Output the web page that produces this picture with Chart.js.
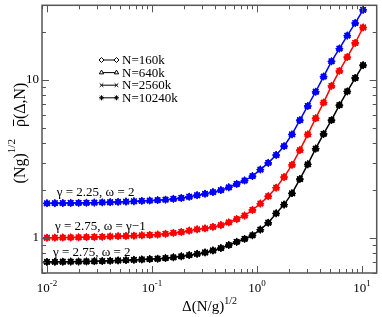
<!DOCTYPE html>
<html>
<head>
<meta charset="utf-8">
<script src="https://cdn.jsdelivr.net/npm/chart.js@4.4.0/dist/chart.umd.min.js"></script>
<style>
  body { margin: 0; background: #fff; }
  canvas { display: block; }
</style>
</head>
<body>
<canvas id="chart" width="382" height="317"></canvas>
<script>
// x values: Delta (N/g)^1/2
const deltaValues = [
  0.01, 0.01189, 0.01414, 0.01682, 0.02, 0.02378, 0.02828, 0.03364, 0.04, 0.04757,
  0.05657, 0.06727, 0.08, 0.09514, 0.1131, 0.1345, 0.16, 0.1903, 0.2263, 0.2691,
  0.32, 0.3805, 0.4525, 0.5382, 0.64, 0.7611, 0.9051, 1.076, 1.28, 1.522,
  1.81, 2.153, 2.56, 3.044, 3.62, 4.305, 5.12, 6.089, 7.241, 8.611, 10.24
];

// gamma = 2.25, omega = 2
const rhoBlue = [
  1.657, 1.659, 1.662, 1.664, 1.666, 1.669, 1.673, 1.678, 1.683, 1.69,
  1.698, 1.705, 1.715, 1.725, 1.735, 1.747, 1.767, 1.79, 1.823, 1.863,
  1.903, 1.95, 2.007, 2.089, 2.196, 2.309, 2.462, 2.71, 2.987, 3.349,
  3.809, 4.521, 5.564, 6.845, 8.423, 10.51, 13.12, 15.8, 19.09, 22.93, 27.8
];

// gamma = 2.75, omega = gamma-1
const rhoRed = [
  1.003, 1.004, 1.006, 1.007, 1.009, 1.012, 1.014, 1.017, 1.022, 1.026,
  1.029, 1.033, 1.039, 1.044, 1.05, 1.062, 1.076, 1.091, 1.112, 1.134,
  1.149, 1.174, 1.205, 1.254, 1.316, 1.385, 1.503, 1.65, 1.837, 2.08,
  2.427, 2.902, 3.597, 4.521, 5.726, 7.195, 9.178, 11.41, 13.95, 17.15, 21.49
];

// gamma = 2.75, omega = 2
const rhoBlack = [
  0.7047, 0.7057, 0.7067, 0.7077, 0.7087, 0.7097, 0.7117, 0.7138, 0.7168, 0.7199,
  0.723, 0.7261, 0.7303, 0.7345, 0.7387, 0.745, 0.7536, 0.7645, 0.7778, 0.7924,
  0.8092, 0.8327, 0.8618, 0.901, 0.9444, 0.9858, 1.039, 1.129, 1.248, 1.43,
  1.626, 1.917, 2.359, 2.923, 3.675, 4.553, 5.564, 6.924, 8.459, 10.29, 12.4
];

const curveSeries = [rhoBlue, rhoRed, rhoBlack];
const curveColors = ["#0000ff", "#ff0000", "#000000"];
const curveLabels = ["γ = 2.25, ω = 2", "γ = 2.75, ω = γ−1", "γ = 2.75, ω = 2"];

const legendLabels = ["N=160k", "N=640k", "N=2560k", "N=10240k"];
const markerStyles = ["rectRot", "triangle", "crossRot", "star"];

const xTickValues = [0.01, 0.1, 1, 10];
const xTickExponents = ["-2", "-1", "0", "1"];
const yTickValues = [1, 10];
const yTickLabels = ["1", "10"];

const SERIF = "'Liberation Serif', 'DejaVu Serif', serif";

// one dataset per system size, the curves collapse so they overlap
const datasets = [];
curveSeries.forEach((ys, c) => {
  const pts = deltaValues.map((x, i) => ({ x: x, y: ys[i] }));
  markerStyles.forEach((style, m) => {
    datasets.push({
      data: pts,
      showLine: m === 0,
      borderColor: curveColors[c],
      backgroundColor: curveColors[c],
      borderWidth: 1.5,
      pointStyle: style,
      pointRadius: style === "star" || style === "crossRot" ? 3.8 : 3,
      pointBorderWidth: 1.3,
    });
  });
});

function line(ctx, x1, y1, x2, y2) {
  ctx.beginPath();
  ctx.moveTo(x1, y1);
  ctx.lineTo(x2, y2);
  ctx.stroke();
}

// draws text pieces [text, size, raise] from x, returns end x
function drawPieces(ctx, pieces, x, y) {
  pieces.forEach(([t, size, raise]) => {
    ctx.font = size + "px " + SERIF;
    ctx.fillText(t, x, y - raise);
    x += ctx.measureText(t).width;
  });
  return x;
}
function piecesWidth(ctx, pieces) {
  let w = 0;
  pieces.forEach(([t, size]) => {
    ctx.font = size + "px " + SERIF;
    w += ctx.measureText(t).width;
  });
  return w;
}

const decorations = {
  id: "decorations",
  afterDraw(chart) {
    const { ctx, chartArea: a } = chart;
    const xs = chart.scales.x;
    const ys = chart.scales.y;
    ctx.save();
    ctx.fillStyle = "#000";

    // frame
    ctx.strokeStyle = "#555";
    ctx.lineWidth = 1.5;
    ctx.strokeRect(a.left, a.top, a.right - a.left, a.bottom - a.top);

    // inward ticks, log decades with minor ticks
    ctx.lineWidth = 1;
    for (let d = -3; d <= 2; d++) {
      for (let m = 1; m <= 9; m++) {
        const v = m * Math.pow(10, d);
        const len = m === 1 ? 7 : 4;
        if (v >= xs.min && v <= xs.max) {
          const px = Math.round(xs.getPixelForValue(v)) + 0.5;
          line(ctx, px, a.bottom, px, a.bottom - len);
          line(ctx, px, a.top, px, a.top + len);
        }
        if (v >= ys.min && v <= ys.max) {
          const py = Math.round(ys.getPixelForValue(v)) + 0.5;
          line(ctx, a.left, py, a.left + len, py);
          line(ctx, a.right, py, a.right - len, py);
        }
      }
    }

    // x tick labels 10^n
    ctx.textBaseline = "alphabetic";
    ctx.textAlign = "left";
    xTickValues.forEach((v, i) => {
      const pieces = [["10", 13, 0], [xTickExponents[i], 9, 6]];
      const w = piecesWidth(ctx, pieces);
      drawPieces(ctx, pieces, xs.getPixelForValue(v) - w / 2, 292);
    });

    // y tick labels
    ctx.font = "13px " + SERIF;
    ctx.textAlign = "right";
    ctx.textBaseline = "middle";
    yTickValues.forEach((v, i) => {
      ctx.fillText(yTickLabels[i], a.left - 3, ys.getPixelForValue(v));
    });

    // x axis title
    ctx.textAlign = "left";
    ctx.textBaseline = "alphabetic";
    drawPieces(ctx, [["Δ(N/g)", 15, 0], ["1/2", 10, 7]], 182, 311);

    // y axis title, rotated
    ctx.save();
    ctx.translate(25, 133);
    ctx.rotate(-Math.PI / 2);
    const yTitle = [["(Ng)", 16, 0], ["1/2", 11, 10], ["   ", 16, 0], ["ρ", 16, 0], ["(Δ,N)", 16, 0]];
    const tw = piecesWidth(ctx, yTitle);
    const tx = -tw / 2;
    const rhoStart = tx + piecesWidth(ctx, yTitle.slice(0, 3));
    const rhoW = piecesWidth(ctx, [yTitle[3]]);
    drawPieces(ctx, yTitle, tx, 0);
    ctx.lineWidth = 1;
    ctx.strokeStyle = "#000";
    line(ctx, rhoStart + 1, -11.5, rhoStart + rhoW - 0.5, -11.5);
    ctx.restore();

    // curve annotations
    const labelAnchors = [[0.0124, 1.85], [0.0119, 1.121], [0.01139, 0.773]];
    ctx.font = "13px " + SERIF;
    ctx.textAlign = "left";
    ctx.textBaseline = "alphabetic";
    curveLabels.forEach((t, i) => {
      ctx.fillText(t, xs.getPixelForValue(labelAnchors[i][0]), ys.getPixelForValue(labelAnchors[i][1]));
    });

    // legend
    ctx.textBaseline = "middle";
    ctx.strokeStyle = "#000";
    legendLabels.forEach((t, i) => {
      const ly = 60 + i * 12.6;
      ctx.lineWidth = 1;
      line(ctx, 101.5, ly, 116.5, ly);
      [101.5, 116.5].forEach((mx) => {
        ctx.fillStyle = i === 3 ? "#000" : "#fff";
        ctx.strokeStyle = "#000";
        Chart.helpers.drawPoint(ctx, {
          pointStyle: markerStyles[i],
          radius: 2.5,
          rotation: 0,
          borderWidth: 1,
        }, mx, ly);
      });
      ctx.fillStyle = "#000";
      ctx.font = "13px " + SERIF;
      ctx.fillText(t, 122, ly + 0.5);
    });

    ctx.restore();
  },
};

new Chart(document.getElementById("chart"), {
  type: "line",
  data: { datasets: datasets },
  plugins: [decorations],
  options: {
    responsive: false,
    animation: false,
    events: [],
    layout: { padding: { left: 42, right: 1, top: 1, bottom: 44 } },
    plugins: { legend: { display: false }, tooltip: { enabled: false } },
    scales: {
      x: { type: "logarithmic", min: 0.00897, max: 13.8, display: false },
      y: { type: "logarithmic", min: 0.606, max: 29.7, display: false },
    },
  },
});
</script>
</body>
</html>
